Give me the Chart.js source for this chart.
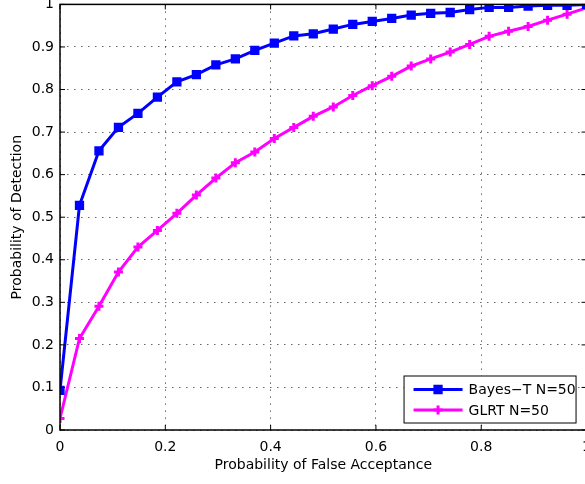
<!DOCTYPE html>
<html>
<head>
<meta charset="utf-8">
<script src="https://cdn.jsdelivr.net/npm/chart.js@4.4.1/dist/chart.umd.min.js"></script>
<style>
html, body { margin: 0; padding: 0; background: #fff; overflow: hidden; width: 585px; height: 484px; }
#wrap { position: absolute; left: 0; top: -10px; width: 600px; height: 490px; }
</style>
</head>
<body>
<div id="wrap"><canvas id="rocChart" width="600" height="490"></canvas></div>
<script>
// ROC: Probability of Detection vs Probability of False Acceptance

const falseAcceptance = [0, 0.037, 0.074, 0.111, 0.148, 0.185, 0.222, 0.259, 0.296, 0.333,
    0.370, 0.407, 0.444, 0.481, 0.519, 0.556, 0.593, 0.630, 0.667, 0.704,
    0.741, 0.778, 0.815, 0.852, 0.889, 0.926, 0.963, 1.0];

const bayesDetection = [0.093, 0.528, 0.656, 0.711, 0.744, 0.782, 0.818, 0.835, 0.858, 0.872,
    0.892, 0.909, 0.926, 0.931, 0.942, 0.953, 0.960, 0.967, 0.975, 0.979,
    0.981, 0.988, 0.993, 0.993, 0.996, 0.998, 0.998, 1.0];

const glrtDetection = [0.027, 0.215, 0.291, 0.371, 0.430, 0.469, 0.509, 0.552, 0.592, 0.628,
    0.653, 0.685, 0.711, 0.737, 0.759, 0.786, 0.809, 0.831, 0.855, 0.872,
    0.888, 0.906, 0.925, 0.937, 0.948, 0.963, 0.977, 0.992];

const xTickLabels = ['0', '0.2', '0.4', '0.6', '0.8', '1'];
const yTickLabels = ['0', '0.1', '0.2', '0.3', '0.4', '0.5', '0.6', '0.7', '0.8', '0.9', '1'];

const FONT = 'DejaVu Sans';

function toPoints(ys) {
    return ys.map((y, i) => ({ x: falseAcceptance[i], y: y }));
}

// กรอบ + ขีด tick ด้านใน + legend (แบบ MATLAB)
const framePlugin = {
    id: 'frame',
    afterDatasetsDraw(chart) {
        const { ctx, chartArea: a, scales } = chart;
        ctx.save();
        ctx.setLineDash([]);
        ctx.strokeStyle = '#000';
        ctx.lineWidth = 1.5;
        ctx.strokeRect(a.left, a.top, a.right - a.left, a.bottom - a.top);

        const tl = 5;
        ctx.lineWidth = 1;
        ctx.beginPath();
        scales.x.ticks.forEach(t => {
            const px = scales.x.getPixelForValue(t.value);
            ctx.moveTo(px, a.bottom); ctx.lineTo(px, a.bottom - tl);
            ctx.moveTo(px, a.top); ctx.lineTo(px, a.top + tl);
        });
        scales.y.ticks.forEach(t => {
            const py = scales.y.getPixelForValue(t.value);
            ctx.moveTo(a.left, py); ctx.lineTo(a.left + tl, py);
            ctx.moveTo(a.right, py); ctx.lineTo(a.right - tl, py);
        });
        ctx.stroke();

        // legend box
        const bw = 172, bh = 47;
        const bx = a.right - 11 - bw, by = a.bottom - 7.5 - bh;
        ctx.fillStyle = '#fff';
        ctx.fillRect(bx, by, bw, bh);
        ctx.strokeStyle = '#000';
        ctx.lineWidth = 1;
        ctx.strokeRect(bx + 0.5, by + 0.5, bw, bh);
        chart.data.datasets.forEach((ds, i) => {
            const cy = by + 14 + i * 20.6;
            ctx.strokeStyle = ds.borderColor;
            ctx.lineWidth = ds.borderWidth;
            ctx.beginPath();
            ctx.moveTo(bx + 10, cy);
            ctx.lineTo(bx + 59, cy);
            ctx.stroke();
            ctx.fillStyle = ds.backgroundColor;
            ctx.lineWidth = ds.pointBorderWidth;
            Chart.helpers.drawPoint(ctx, {
                pointStyle: ds.pointStyle,
                radius: ds.pointRadius,
                borderWidth: ds.pointBorderWidth,
                rotation: 0
            }, bx + 34.5, cy);
            ctx.fillStyle = '#000';
            ctx.font = '14px "' + FONT + '"';
            ctx.textAlign = 'left';
            ctx.textBaseline = 'middle';
            ctx.fillText(ds.label, bx + 65, cy + 1);
        });
        ctx.restore();
    }
};

const ctx = document.getElementById('rocChart').getContext('2d');
const rocChart = new Chart(ctx, {
    type: 'line',
    data: {
        datasets: [{
            label: 'Bayes\u2212T N=50',
            data: toPoints(bayesDetection),
            borderColor: '#0000ff',
            backgroundColor: '#0000ff',
            borderWidth: 3,
            pointStyle: 'rect',
            pointRadius: 5.5,
            pointBorderWidth: 1.5,
            tension: 0
        }, {
            label: 'GLRT N=50',
            data: toPoints(glrtDetection),
            borderColor: '#ff00ff',
            backgroundColor: '#ff00ff',
            borderWidth: 3,
            pointStyle: 'cross',
            pointRadius: 4.5,
            pointBorderWidth: 3,
            tension: 0
        }]
    },
    options: {
        responsive: false,
        animation: false,
        events: [],
        layout: { padding: { top: 11, right: 12.5, left: 0, bottom: 0 } },
        plugins: {
            legend: { display: false },
            tooltip: { enabled: false },
            title: { display: false }
        },
        scales: {
            x: {
                type: 'linear',
                min: 0,
                max: 1,
                afterFit(scale) { scale.height = 50; },
                ticks: {
                    stepSize: 0.2,
                    padding: 9,
                    maxRotation: 0,
                    color: '#000',
                    font: { family: FONT, size: 14 },
                    callback: (v, i) => xTickLabels[i]
                },
                grid: { color: 'rgba(0,0,0,0.6)', lineWidth: 1, drawTicks: false },
                border: { display: false, dash: [1.5, 5.5] },
                title: {
                    display: true,
                    text: 'Probability of False Acceptance',
                    color: '#000',
                    font: { family: FONT, size: 14 },
                    padding: { top: 0, bottom: 6 }
                }
            },
            y: {
                type: 'linear',
                min: 0,
                max: 1,
                afterFit(scale) { scale.width = 60; },
                ticks: {
                    stepSize: 0.1,
                    padding: 6,
                    color: '#000',
                    font: { family: FONT, size: 14 },
                    callback: (v, i) => yTickLabels[i]
                },
                grid: { color: 'rgba(0,0,0,0.6)', lineWidth: 1, drawTicks: false },
                border: { display: false, dash: [1.5, 5.5] },
                title: {
                    display: true,
                    text: 'Probability of Detection',
                    color: '#000',
                    font: { family: FONT, size: 14 },
                    padding: { top: 9, bottom: 0 }
                }
            }
        }
    },
    plugins: [framePlugin]
});
</script>
</body>
</html>
